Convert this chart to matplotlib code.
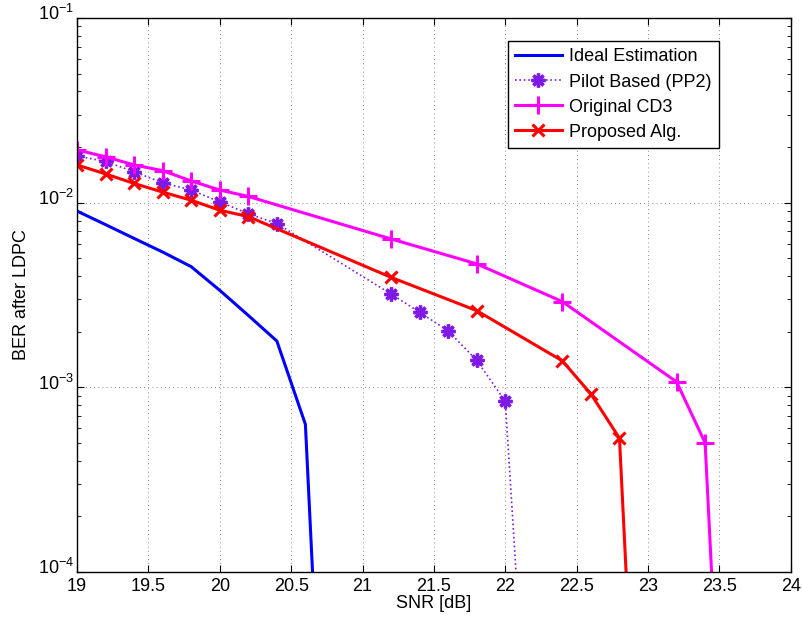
import matplotlib
matplotlib.use("Agg")
import matplotlib.pyplot as plt
import matplotlib.transforms as mtransforms
from matplotlib.ticker import LogLocator, NullFormatter, FixedLocator

plt.rcParams["font.family"] = ["Liberation Sans", "DejaVu Sans"]
plt.rcParams["mathtext.fontset"] = "custom"
plt.rcParams["mathtext.rm"] = "Liberation Sans"
plt.rcParams["mathtext.it"] = "Liberation Sans"

# Ideal Estimation
snr_ideal = [19.0, 19.2, 19.4, 19.6, 19.8, 20.0, 20.2, 20.4, 20.6, 20.8]
ber_ideal = [9.0e-3, 7.6e-3, 6.4e-3, 5.4e-3, 4.5e-3, 3.35e-3, 2.45e-3, 1.78e-3, 6.3e-4, 4e-7]

# Pilot Based (PP2)
snr_pilot = [19.0, 19.2, 19.4, 19.6, 19.8, 20.0, 20.2, 20.4, 21.2, 21.4, 21.6, 21.8, 22.0, 22.2]
ber_pilot = [1.79e-2, 1.67e-2, 1.47e-2, 1.28e-2, 1.17e-2, 1.01e-2, 8.7e-3, 7.7e-3,
             3.2e-3, 2.55e-3, 2.02e-3, 1.40e-3, 8.4e-4, 3e-6]

# Original CD3
snr_cd3 = [19.0, 19.2, 19.4, 19.6, 19.8, 20.0, 20.2, 21.2, 21.8, 22.4, 23.2, 23.4, 23.6]
ber_cd3 = [1.93e-2, 1.77e-2, 1.60e-2, 1.49e-2, 1.31e-2, 1.17e-2, 1.08e-2,
           6.36e-3, 4.66e-3, 2.91e-3, 1.07e-3, 5.0e-4, 4e-7]

# Proposed Alg.
snr_prop = [19.0, 19.2, 19.4, 19.6, 19.8, 20.0, 20.2, 21.2, 21.8, 22.4, 22.6, 22.8, 23.0]
ber_prop = [1.60e-2, 1.43e-2, 1.27e-2, 1.14e-2, 1.03e-2, 9.1e-3, 8.4e-3,
            3.94e-3, 2.6e-3, 1.39e-3, 9.2e-4, 5.3e-4, 4e-7]

x_ticks = [19, 19.5, 20, 20.5, 21, 21.5, 22, 22.5, 23, 23.5, 24]
x_tick_labels = ["19", "19.5", "20", "20.5", "21", "21.5", "22", "22.5", "23", "23.5", "24"]

PURPLE = "#7f19e6"
FS = 13

fig = plt.figure(figsize=(8.02, 6.19), dpi=100)
ax = fig.add_axes([0.096, 0.076, 0.890, 0.895])

ax.plot(snr_ideal, ber_ideal, color="#0000ff", lw=2.2, label="Ideal Estimation")
ax.plot(snr_pilot, ber_pilot, color=PURPLE, lw=1.2, ls=":", marker=(8, 2, 0),
        ms=10, mew=2.4, mec=PURPLE, label="Pilot Based (PP2)")
ax.plot(snr_cd3, ber_cd3, color="#ff00ff", lw=2.2, marker="+", ms=13, mew=2.2,
        label="Original CD3")
ax.plot(snr_prop, ber_prop, color="#ff0000", lw=2.2, marker="x", ms=9, mew=2.2,
        label="Proposed Alg.")

ax.set_yscale("log")
ax.set_xlim(19, 24)
ax.set_ylim(1e-4, 1e-1)
ax.xaxis.set_major_locator(FixedLocator(x_ticks))
ax.set_xticklabels(x_tick_labels)
ax.yaxis.set_major_locator(LogLocator(base=10, numticks=10))
ax.yaxis.set_minor_locator(LogLocator(base=10, subs=range(2, 10), numticks=20))
ax.yaxis.set_minor_formatter(NullFormatter())

ax.tick_params(which="both", direction="in", top=True, right=True, labelsize=FS)
ax.tick_params(which="major", length=5, width=0.8)
ax.tick_params(which="minor", length=3, width=0.6)
ax.tick_params(axis="x", pad=4)
ax.tick_params(axis="y", pad=2)
ax.grid(True, which="major", color="black", ls=(0, (1, 4)), lw=0.6, alpha=0.6)
for s in ax.spines.values():
    s.set_linewidth(1.0)

# 10^n ラベルは基数 "10" を目盛に合わせる (上付き分だけ上へ)
shift = mtransforms.ScaledTranslation(0, 4 / 72, fig.dpi_scale_trans)
for lbl in ax.get_yticklabels():
    lbl.set_transform(lbl.get_transform() + shift)

ax.set_xlabel("SNR [dB]", fontsize=FS, labelpad=0)
ax.set_ylabel("BER after LDPC", fontsize=FS, labelpad=6)

leg = ax.legend(loc="upper right", bbox_to_anchor=(0.899, 0.958), borderaxespad=0,
                fontsize=FS, fancybox=False, edgecolor="black", framealpha=1,
                handlelength=2.6, handletextpad=0.4, labelspacing=0.45,
                borderpad=0.4)
leg.get_frame().set_linewidth(1.0)

fig.savefig("out.png", dpi=100)
